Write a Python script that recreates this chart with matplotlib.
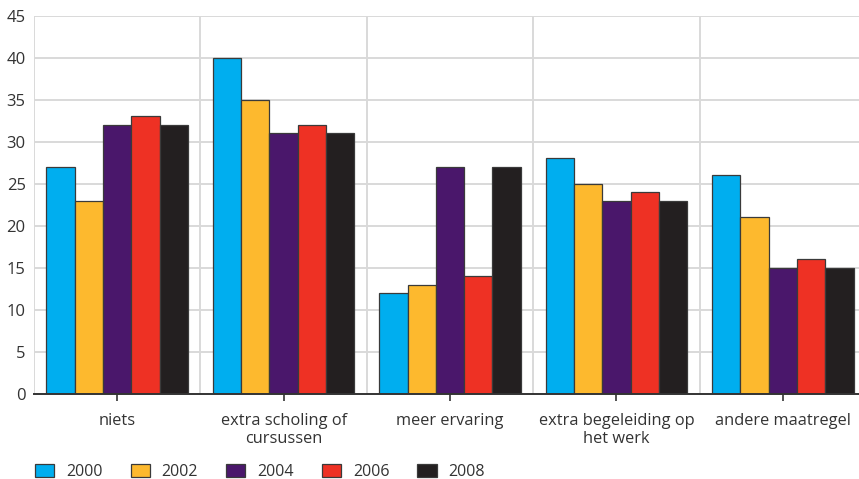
import numpy as np
import matplotlib
matplotlib.use("Agg")
import matplotlib.pyplot as plt

plt.rcParams['font.family'] = ['Open Sans', 'DejaVu Sans']

categories = ['niets', 'extra scholing of\ncursussen', 'meer ervaring',
              'extra begeleiding op\nhet werk', 'andere maatregel']
years = ['2000', '2002', '2004', '2006', '2008']
v2000 = [27, 40, 12, 28, 26]
v2002 = [23, 35, 13, 25, 21]
v2004 = [32, 31, 27, 23, 15]
v2006 = [33, 32, 14, 24, 16]
v2008 = [32, 31, 27, 23, 15]
series = [v2000, v2002, v2004, v2006, v2008]
colors = ['#00aeef', '#fdb92e', '#4a176b', '#ee3124', '#231f20']

fig = plt.figure(figsize=(8.59, 4.79), dpi=100)
ax = fig.add_axes([34 / 859, 85 / 479, 832 / 859, 378.5 / 479])

x = np.arange(len(categories))
w = 0.17
for i, (vals, c, yr) in enumerate(zip(series, colors, years)):
    ax.bar(x + (i - 2) * w, vals, w, color=c, edgecolor='#3a3a3a',
           linewidth=0.9, label=yr, zorder=3)

ax.set_xlim(-0.5, len(categories) - 0.5)
ax.set_ylim(0, 45)
ax.set_yticks(range(0, 46, 5))
ax.set_xticks(x)
ax.set_xticklabels(categories, fontsize=11.8, color='#333333', linespacing=1.15)

# grid: horizontal at ticks, vertical at group boundaries
for yv in range(5, 46, 5):
    ax.axhline(yv, color='#d9d9d9', lw=1.4, zorder=1)
for xb in np.arange(-0.5, len(categories), 1.0):
    ax.axvline(xb, color='#d9d9d9', lw=1.4, zorder=1)

for s in ['top', 'right', 'left']:
    ax.spines[s].set_visible(False)
ax.spines['bottom'].set_color('#333333')
ax.spines['bottom'].set_linewidth(1.4)
ax.spines['bottom'].set_zorder(4)

ax.tick_params(axis='y', length=0, labelsize=12, labelcolor='#333333', pad=6)
ax.tick_params(axis='x', length=5, width=1.2, color='#333333', pad=9)

fig.legend(loc='lower left', bbox_to_anchor=(0.024, -0.032), ncol=5, frameon=False,
           fontsize=11.5, handlelength=1.2, handleheight=0.95,
           columnspacing=1.75, handletextpad=0.75, labelcolor='#333333')

fig.savefig('out.png', dpi=100)
